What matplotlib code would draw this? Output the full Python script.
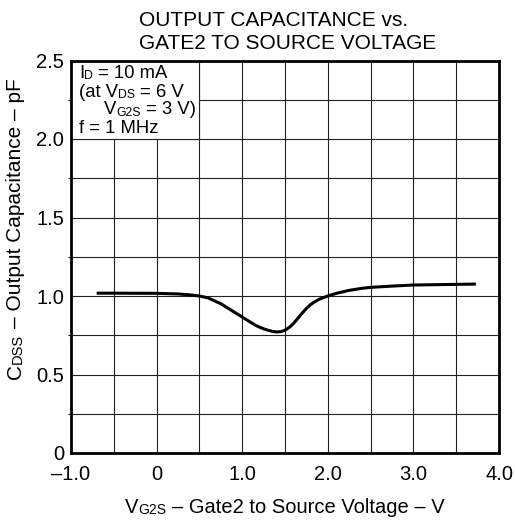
import matplotlib
matplotlib.use("Agg")
import matplotlib.pyplot as plt
from matplotlib.patches import Rectangle

plt.rcParams['font.family'] = ['Liberation Sans', 'DejaVu Sans']

# Data
vg2s = [-0.7, -0.5, 0.0, 0.25, 0.375, 0.5, 0.6, 0.75, 0.9, 1.0, 1.1, 1.15, 1.2, 1.25, 1.3, 1.35,
        1.4, 1.45, 1.5, 1.55, 1.6, 1.65, 1.7, 1.75, 1.8, 1.85, 1.9, 1.95, 2.0, 2.1, 2.25, 2.4,
        2.5, 2.75, 3.0, 3.5, 3.73]
cdss = [1.018, 1.018, 1.017, 1.013, 1.008, 1.0, 0.988, 0.951, 0.90, 0.866, 0.832, 0.815, 0.802, 0.791,
        0.782, 0.775, 0.771, 0.773, 0.782, 0.800, 0.825, 0.858, 0.890, 0.921, 0.946, 0.964, 0.979,
        0.990, 1.0, 1.017, 1.036, 1.049, 1.055, 1.063, 1.07, 1.074, 1.076]

xticks = [-1.0, 0.0, 1.0, 2.0, 3.0, 4.0]
xticklabels = ['\u20131.0', '0', '1.0', '2.0', '3.0', '4.0']
yticks = [0.0, 0.5, 1.0, 1.5, 2.0, 2.5]
yticklabels = ['0', '0.5', '1.0', '1.5', '2.0', '2.5']
title_lines = ['OUTPUT CAPACITANCE vs.', 'GATE2 TO SOURCE VOLTAGE']

# rich text segments: (text, is_subscript, space_before)
box_lines = [
    [('I', False, False), ('D', True, False), ('= 10 mA', False, True)],
    [('(at V', False, False), ('DS', True, False), ('= 6 V', False, True)],
    [('V', False, False), ('G2S', True, False), ('= 3 V)', False, True)],
    [('f = 1 MHz', False, False)],
]
xlabel_segs = [('V', False, False), ('G2S', True, False),
               ('\u2013 Gate2 to Source Voltage \u2013 V', False, True)]
ylabel_segs = [('C', False, False), ('DSS', True, False),
               ('\u2013 Output Capacitance \u2013 pF', False, True)]

W, H = 515, 525
fig = plt.figure(figsize=(W/100, H/100), dpi=100)
renderer = fig.canvas.get_renderer()


def rich_text(segs, x, y, size, sub_size, sub_dy=1.0, ha='left', rotation=0, zorder=6):
    """Draw text made of segments; x, y in pixels from the top-left corner (baseline)."""
    items = []
    space = 0.278 * size * 100 / 72
    for s, is_sub, sp in segs:
        fs = sub_size if is_sub else size
        t = fig.text(0, 0, s, fontsize=fs, ha='left', va='baseline',
                     rotation=rotation, rotation_mode='anchor', zorder=zorder)
        bb = t.get_window_extent(renderer)
        w = bb.height if rotation == 90 else bb.width
        items.append((t, w, is_sub, space if sp else 0.0))
    total = sum(w + g for _, w, _, g in items)
    if rotation == 0:
        pos = x - total / 2 if ha == 'center' else x
        for t, w, is_sub, g in items:
            pos += g
            py = y + (sub_dy if is_sub else 0.0)
            t.set_position((pos / W, 1 - py / H))
            pos += w
    else:
        pos = y + total / 2 if ha == 'center' else y
        for t, w, is_sub, g in items:
            pos -= g
            px = x + (sub_dy if is_sub else 0.0)
            t.set_position((px / W, 1 - pos / H))
            pos -= w


ax = fig.add_axes([71/W, 1-453/H, (499-71)/W, (453-60.5)/H])
ax.set_xlim(-1.0, 4.0)
ax.set_ylim(0, 2.5)

# grid
for i in range(11):
    ax.axvline(-1.0 + 0.5*i, color='#222222', lw=0.8, zorder=1)
for i in range(11):
    ax.axhline(0.25*i, color='#222222', lw=0.8, zorder=1)

# condition box
ax.add_patch(Rectangle((-1.0, 2.0), 1.5, 0.5, facecolor='white', edgecolor='#222222',
                       lw=0.8, zorder=2))
box_x = [79, 79, 104, 79]
box_y = [78, 96.5, 114.5, 133]
for segs, bx, by in zip(box_lines, box_x, box_y):
    rich_text(segs, bx, by, 13.3, 8.8, sub_dy=1.0)

ax.plot(vg2s, cdss, color='black', lw=2.2, zorder=4, solid_capstyle='butt',
        solid_joinstyle='round')

ax.set_xticks(xticks)
ax.set_xticklabels(xticklabels, fontsize=14.5)
ax.set_yticks(yticks)
ax.set_yticklabels(yticklabels, fontsize=14.5)
ax.set_yticks([0.25, 0.75, 1.25, 1.75, 2.25], minor=True)
ax.tick_params(axis='x', which='both', length=0, pad=9)
ax.tick_params(axis='y', which='major', length=0, pad=5)
ax.tick_params(axis='y', which='minor', length=2.5, width=0.8, color='#222222')

for s in ax.spines.values():
    s.set_linewidth(2.0)
    s.set_zorder(5)

rich_text(xlabel_segs, 285, 513, 14.5, 10, sub_dy=1.0, ha='center')
rich_text(ylabel_segs, 21, 229, 15, 10.5, sub_dy=1.0, ha='center', rotation=90)
fig.text(139/W, 1-26/H, title_lines[0], ha='left', va='baseline', fontsize=15)
fig.text(139/W, 1-49/H, title_lines[1], ha='left', va='baseline', fontsize=15)

fig.savefig('out.png', dpi=100)
